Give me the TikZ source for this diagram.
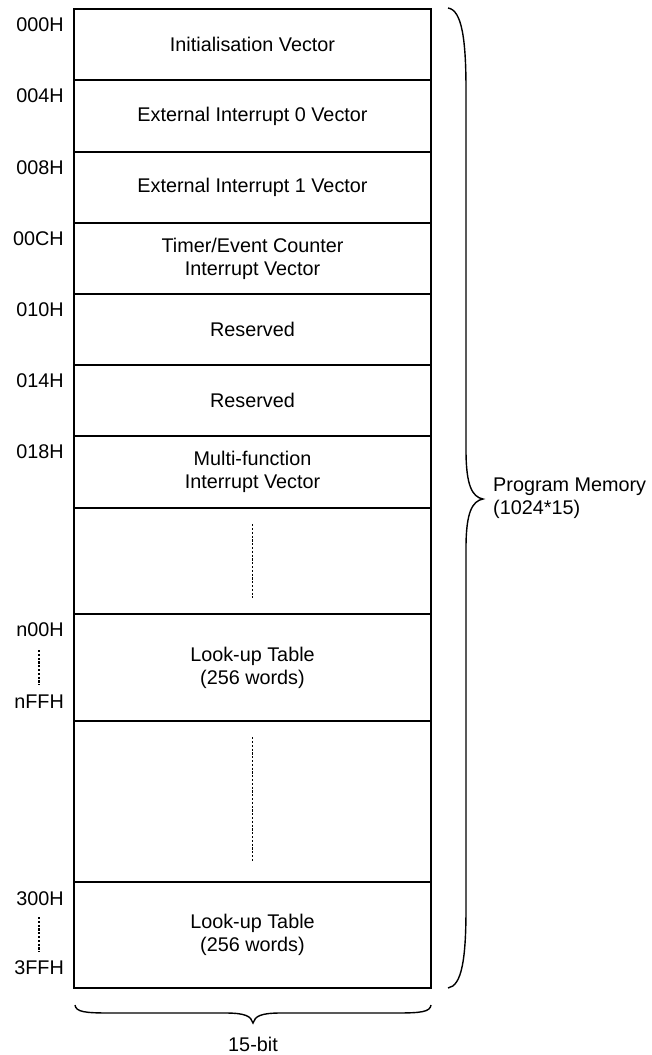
\documentclass[tikz,border=0pt]{standalone}
\usepackage{fontspec}
\setmainfont{Liberation Sans}
\begin{document}
\begin{tikzpicture}[x=1pt,y=-1pt,
  every node/.style={font=\fontsize{19.8}{23}\selectfont},
  memrow/.style={draw, line width=1.5pt, minimum width=357pt, inner sep=0pt, align=center},
  addr/.style={anchor=east, inner sep=0pt},
  dotline/.style={line width=1.9pt, dash pattern=on 2.2pt off 1.6pt},
  bracepath/.style={line width=1.4pt}]
\useasboundingbox (0,0) rectangle (651,1055);
% memory rows
\node[memrow, minimum height=71pt] (r0) at (252.5,44.5) {Initialisation Vector};
\node[memrow, minimum height=72pt] (r1) at (252.5,116) {External Interrupt 0 Vector};
\node[memrow, minimum height=71pt] (r2) at (252.5,187.5) {External Interrupt 1 Vector};
\node[memrow, minimum height=71pt] (r3) at (252.5,258.5) {Timer/Event Counter\\Interrupt Vector};
\node[memrow, minimum height=71pt] (r4) at (252.5,329.5) {Reserved};
\node[memrow, minimum height=71pt] (r5) at (252.5,400.5) {Reserved};
\node[memrow, minimum height=72pt] (r6) at (252.5,472) {Multi-function\\Interrupt Vector};
\node[memrow, minimum height=106pt] (r7) at (252.5,561) {};
\node[memrow, minimum height=107pt] (r8) at (252.5,667.5) {Look-up Table\\(256 words)};
\node[memrow, minimum height=161pt] (r9) at (252.5,801.5) {};
\node[memrow, minimum height=106pt] (r10) at (252.5,935) {Look-up Table\\(256 words)};
% dotted continuation marks
\draw[dotline] ([yshift=-17pt]r7.north) -- ([yshift=17pt]r7.south);
\draw[dotline] ([yshift=-17pt]r9.north) -- ([yshift=21pt]r9.south);
% addresses
\node[addr] (a0) at (64,25) {000H};
\node[addr] (a1) at (64,96) {004H};
\node[addr] (a2) at (64,168) {008H};
\node[addr] (a3) at (64,239) {00CH};
\node[addr] (a4) at (64,310) {010H};
\node[addr] (a5) at (64,381) {014H};
\node[addr] (a6) at (64,452) {018H};
\node[addr] (a7) at (64,630) {n00H};
\node[addr] (a8) at (64,702) {nFFH};
\node[addr] (a9) at (64,899) {300H};
\node[addr] (a10) at (64,968) {3FFH};
\draw[dotline] (39,650) -- (39,685);
\draw[dotline] (39,917) -- (39,952);
% right brace
\coordinate (bt) at (448,8);
\coordinate (bb) at (448,988);
\coordinate (btip) at (483,499);
\draw[bracepath] (bt) .. controls (462,10) and (466,40) .. (466,90) -- (466,450)
  .. controls (466,485) and (472,497) .. (btip)
  .. controls (472,501) and (466,513) .. (466,548) -- (466,908)
  .. controls (466,958) and (462,986) .. (bb);
\node[anchor=west, align=left, inner sep=0pt] (pm) at (493,498) {Program Memory\\(1024*15)};
% bottom brace
\coordinate (hl) at (75,1005);
\coordinate (hr) at (431,1005);
\coordinate (htip) at (253,1023);
\draw[bracepath] (hl) .. controls (76,1012) and (85,1013) .. (110,1013) -- (225,1013)
  .. controls (245,1013) and (251,1016) .. (htip)
  .. controls (255,1016) and (261,1013) .. (281,1013) -- (396,1013)
  .. controls (421,1013) and (430,1012) .. (hr);
\node[inner sep=0pt] (bits) at (253,1044) {15-bit};
\end{tikzpicture}
\end{document}
